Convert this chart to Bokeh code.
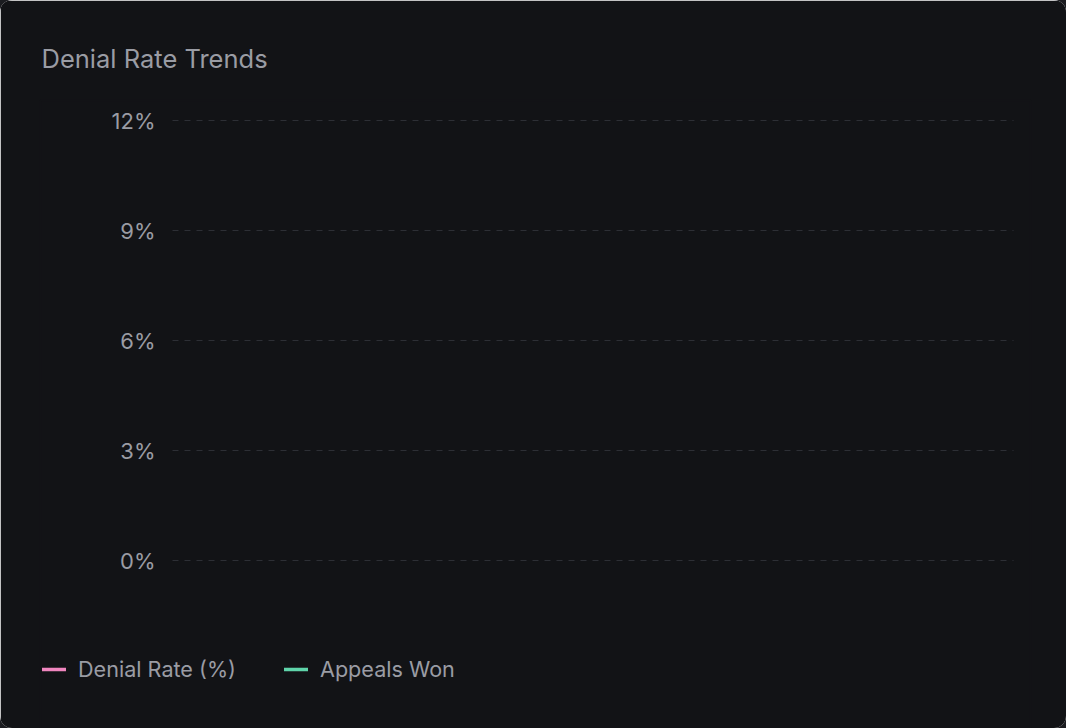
from bokeh.plotting import figure
from bokeh.models import (ColumnDataSource, Range1d, FixedTicker, PrintfTickFormatter,
                          Legend, LegendItem)
from bokeh.embed import file_html
from bokeh.resources import INLINE

# ---- data (the reference chart has no data points plotted) ----
months = []
denial_rate = []
appeals_won = []
y_ticks = [0, 3, 6, 9, 12]
series_labels = ["Denial Rate (%)", "Appeals Won"]
series_colors = ["#f086bf", "#5fd4aa"]
title_text = "Denial Rate Trends"

BG = "#121316"
TXT = "#9a9ca4"
FONT = "Inter"

# ---- layout constants (pixels) ----
W, H = 1066, 728
FRAME_L, FRAME_R, FRAME_T, FRAME_B = 40, 1030, 100, 728
GRID_L, GRID_R = 172, 1013   # horizontal extent of the grid lines
TOP_Y, ZERO_Y = 120, 560     # pixel rows of the top and 0 ticks
px_per_unit = (ZERO_Y - TOP_Y) / (y_ticks[-1] - y_ticks[0])
y_end = y_ticks[-1] + (TOP_Y - FRAME_T) / px_per_unit
y_start = y_ticks[0] - (FRAME_B - ZERO_Y) / px_per_unit

p = figure(width=W, height=H, output_backend="svg", toolbar_location=None,
           x_range=Range1d(0, 1), y_range=Range1d(y_start, y_end))
p.outline_line_color = BG
p.outline_line_alpha = 1
p.outline_line_width = 2
p.min_border_left = FRAME_L
p.min_border_right = W - FRAME_R
p.min_border_top = FRAME_T
p.min_border_bottom = H - FRAME_B
p.background_fill_color = BG
p.border_fill_color = BG
p.styles = {"border-radius": "12px", "overflow": "hidden",
            "outline": "1px solid #2a2c31", "outline-offset": "-2px",
            "box-shadow": "0 0 0 40px #1b1c20"}

# title
p.title.text = title_text
p.title.text_font = FONT
p.title.text_font_size = "25.5px"
p.title.text_font_style = "normal"
p.title.text_color = TXT
p.title.align = "left"
p.title.offset = 1
p.title.standoff = 53

# axes
p.xaxis.visible = False
p.xgrid.visible = False
yax = p.yaxis[0]
yax.ticker = FixedTicker(ticks=y_ticks)
yax.formatter = PrintfTickFormatter(format="%d%%")
yax.axis_line_color = None
yax.major_tick_line_color = None
yax.minor_tick_line_color = None
yax.major_tick_out = 0
yax.major_tick_in = 0
yax.major_label_standoff = FRAME_L - 155
yax.major_label_text_font = FONT
yax.major_label_text_font_size = "22px"
yax.major_label_text_color = TXT

yg = p.ygrid[0]
yg.ticker = FixedTicker(ticks=y_ticks)
yg.grid_line_color = "#2d2f35"
yg.grid_line_dash = "6 6"
yg.grid_line_width = 1
if hasattr(yg, "cross_bounds"):
    yg.cross_bounds = ((GRID_L - FRAME_L) / (FRAME_R - FRAME_L),
                       (GRID_R - FRAME_L) / (FRAME_R - FRAME_L))

# series (empty in the reference)
src1 = ColumnDataSource(dict(x=list(range(len(months))), y=denial_rate))
src2 = ColumnDataSource(dict(x=list(range(len(months))), y=appeals_won))
r1 = p.line("x", "y", source=src1, line_color=series_colors[0], line_width=3, line_cap="round")
r2 = p.line("x", "y", source=src2, line_color=series_colors[1], line_width=3, line_cap="round")

# legend swatches: Bokeh skips legend glyphs of empty renderers, so use
# non-drawing proxies (a single NaN point) with the same line style
nan = float("nan")
k1 = p.line([nan], [nan], line_color=series_colors[0], line_width=3.5, line_cap="round")
k2 = p.line([nan], [nan], line_color=series_colors[1], line_width=3.5, line_cap="round")

legend = Legend(items=[LegendItem(label=series_labels[0], renderers=[k1]),
                       LegendItem(label=series_labels[1], renderers=[k2])],
                orientation="horizontal", location=(2, 46))
legend.label_text_font = FONT
legend.label_text_font_size = "21.6px"
legend.label_text_color = TXT
legend.background_fill_alpha = 0
legend.border_line_alpha = 0
legend.glyph_width = 24
legend.glyph_height = 20
legend.label_height = 20
legend.label_standoff = 12
legend.spacing = 48
legend.padding = 0
legend.margin = 0
p.add_layout(legend)

open("out.html", "w").write(file_html(p, INLINE))
